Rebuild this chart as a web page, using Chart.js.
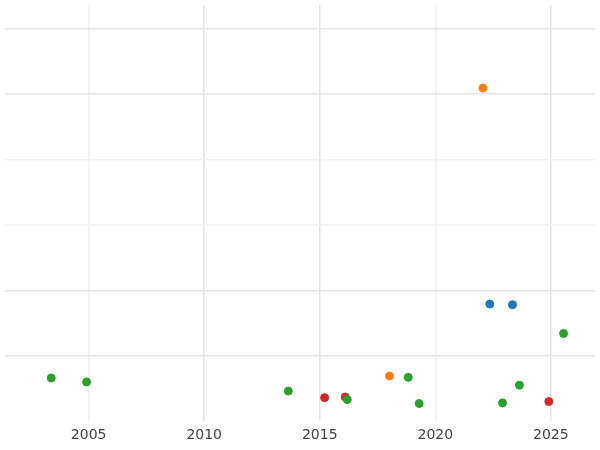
<!DOCTYPE html>
<html>
<head>
<meta charset="utf-8">
<script src="https://cdn.jsdelivr.net/npm/chart.js@4"></script>
<style>
  html, body { margin: 0; padding: 0; background: #fff; }
  #wrap { width: 600px; height: 450px; }
</style>
</head>
<body>
<div id="wrap"><canvas id="c"></canvas></div>
<script>
const greenPts = [[2003.38, 0.66], [2004.91, 0.60], [2013.64, 0.46], [2016.19, 0.33], [2018.83, 0.67],
  [2019.30, 0.27], [2022.91, 0.28], [2023.64, 0.55], [2025.55, 1.34]];
const orangePts = [[2022.06, 5.09], [2018.02, 0.69]];
const bluePts = [[2022.36, 1.79], [2023.34, 1.78]];
const redPts = [[2015.21, 0.36], [2016.10, 0.37], [2024.91, 0.30]];
const xTicks = [2005, 2010, 2015, 2020, 2025];

const toXY = (arr) => arr.map(([x, y]) => ({ x, y }));
const ds = (data, color) => ({
  data: toXY(data), backgroundColor: color, borderColor: color,
  pointRadius: 4, pointHoverRadius: 4,
});

new Chart(document.getElementById("c"), {
  type: "scatter",
  data: {
    datasets: [
      ds(greenPts, "#2ca02c"),
      ds(orangePts, "#ff7f0e"),
      ds(bluePts, "#1f77b4"),
      ds(redPts, "#d62728"),
    ],
  },
  options: {
    responsive: true, maintainAspectRatio: false, animation: false,
    layout: { padding: { left: -5, right: -5, top: -5, bottom: 0 } },
    plugins: { legend: { display: false }, tooltip: { enabled: false } },
    scales: {
      x: {
        type: "linear", min: 2001.38, max: 2026.91,
        afterBuildTicks: (a) => { a.ticks = xTicks.map((v) => ({ value: v })); },
        ticks: { color: "#444", font: { family: "DejaVu Sans", size: 14 }, padding: 6, callback: (v) => String(v) },
        grid: {
          color: (c) => (c.tick && (c.tick.value === 2005 || c.tick.value === 2020) ? "#f0f0f0" : "#e4e4e4"),
          lineWidth: 1.5, drawTicks: false,
        },
        border: { display: false },
      },
      y: {
        min: 0, max: 6.36,
        afterBuildTicks: (a) => { a.ticks = [1, 2, 3, 4, 5, 6].map((v) => ({ value: v })); },
        ticks: { display: false },
        grid: {
          color: (c) => (c.tick && (c.tick.value === 3 || c.tick.value === 4) ? "#f2f2f2" : "#e4e4e4"),
          lineWidth: 1.5, drawTicks: false,
        },
        border: { display: false },
      },
    },
  },
});
</script>
</body>
</html>
